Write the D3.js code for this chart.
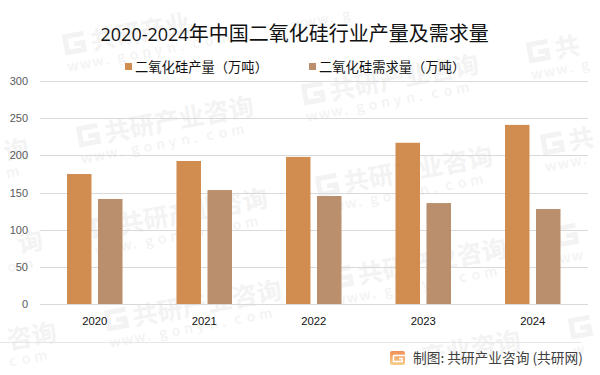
<!DOCTYPE html>
<html lang="zh-CN">
<head>
  <meta charset="UTF-8">
  <script src="https://d3js.org/d3.v7.min.js"></script>
  <title>2020-2024年中国二氧化硅行业产量及需求量</title>
  <style>
    html, body { margin: 0; padding: 0; background: #fff; }
    svg { display: block; font-family: "Noto Sans CJK SC", sans-serif; }
    .tick line, .domain { shape-rendering: crispEdges; }
  </style>
</head>
<body>
  <svg width="600" height="375"></svg>
  <script>
    const years = ["2020", "2021", "2022", "2023", "2024"];
    const output = [175, 192.5, 198, 217, 241];
    const demand = [141.5, 153.5, 145.5, 136, 128];
    const yTicks = [0, 50, 100, 150, 200, 250, 300];
    const seriesNames = ["二氧化硅产量（万吨）", "二氧化硅需求量（万吨）"];
    const colors = ["#d18c4f", "#b98f6d"];
    const wmName = "共研产业咨询";
    const wmSite = "www.gonyn.com";

    const svg = d3.select("svg");

    // 水印放在最底层，逐字放置，出画的字不画
    const wm = svg.append("g").attr("id", "watermark").attr("fill", "#f3f3f3");
    const rad = 10.5 * Math.PI / 180;
    const toPage = (ox, oy, lx, ly) => [
      ox + lx * Math.cos(rad) + ly * Math.sin(rad),
      oy - lx * Math.sin(rad) + ly * Math.cos(rad)
    ];
    const inside = (p, s) => p[0] >= 1 && p[0] + s * 1.1 <= 599 && p[1] - s * 1.4 >= 1 && p[1] + 6 <= 374;
    const putChar = (ch, p, size, weight) => {
      wm.append("text").text(ch)
        .attr("transform", `translate(${p[0]},${p[1]}) rotate(-10.5)`)
        .attr("font-size", size).attr("font-weight", weight);
    };
    for (let row = -1; row < 6; row++) {
      for (let col = -2; col < 4; col++) {
        const ox = 65 + col * 225 + row * 14;
        const oy = 55 - col * 42 + row * 92;
        const logo = toPage(ox, oy, 0, 0);
        if (inside(logo, 24)) {
          wm.append("path")
            .attr("transform", `translate(${logo[0]},${logo[1]}) rotate(-10.5)`)
            .attr("d", "M22 -18H3V-2H20V-9H11")
            .attr("fill", "none").attr("stroke", "#f3f3f3").attr("stroke-width", 5);
        }
        Array.from(wmName).forEach((ch, i) => {
          const p = toPage(ox, oy, 28 + i * 25.2, 0);
          if (inside(p, 25)) putChar(ch, p, 25, 700);
        });
        Array.from(wmSite).forEach((ch, i) => {
          const p = toPage(ox, oy, i * 12.7, 17);
          if (inside(p, 13)) putChar(ch, p, 14, 500);
        });
      }
    }

    const x = d3.scaleBand().domain(years).range([40, 587.5]);
    const y = d3.scaleLinear().domain([0, 300]).range([304.3, 81]);
    const x1 = d3.scaleBand().domain([0, 1]).range([27, 82.5]).paddingInner(0.21);

    // 网格线和y轴
    const yAxis = d3.axisLeft(y).tickValues(yTicks).tickSize(-547.5).tickPadding(12);
    const yG = svg.append("g").attr("transform", "translate(40,0)").call(yAxis);
    yG.select(".domain").remove();
    yG.selectAll("line").attr("stroke", "#d9d9d9").attr("stroke-width", 1);
    yG.selectAll("text").attr("fill", "#595959").attr("font-size", 11)
      .attr("font-family", "'Liberation Sans', sans-serif");

    [output, demand].forEach((vals, i) => {
      svg.append("g").selectAll("rect")
        .data(vals)
        .enter()
        .append("rect")
        .attr("x", (d, j) => x(years[j]) + x1(i))
        .attr("y", d => y(d))
        .attr("width", x1.bandwidth())
        .attr("height", d => y(0) - y(d))
        .attr("fill", colors[i]);
    });

    const xAxis = d3.axisBottom(x).tickSize(0).tickPadding(13);
    const xG = svg.append("g").attr("transform", "translate(0,304.3)").call(xAxis);
    xG.select(".domain").attr("stroke", "#d9d9d9");
    xG.selectAll("text").attr("fill", "#111").attr("font-size", 11.3)
      .attr("font-family", "'Liberation Sans', sans-serif");

    // 标题
    const title = svg.append("text").attr("x", 100.5).attr("y", 41).attr("fill", "#111");
    title.append("tspan").text("2020-2024").attr("font-size", 18).attr("font-family", "'Open Sans', sans-serif");
    title.append("tspan").text("年中国二氧化硅行业产量及需求量").attr("font-size", 20);

    // 图例
    [125, 309].forEach((lx, i) => {
      svg.append("rect").attr("x", lx).attr("y", 63).attr("width", 7).attr("height", 7).attr("fill", colors[i]);
      svg.append("text").text(seriesNames[i]).attr("x", lx + 10).attr("y", 72)
        .attr("font-size", 13.3).attr("fill", "#111");
    });

    // 底部来源
    svg.append("line").attr("x1", 0).attr("x2", 581).attr("y1", 342.5).attr("y2", 342.5)
      .attr("stroke", "#e6e6e6");
    const grad = svg.append("defs").append("linearGradient").attr("id", "logoGrad")
      .attr("x1", 0).attr("x2", 0).attr("y1", 0).attr("y2", 1);
    grad.append("stop").attr("offset", 0).attr("stop-color", "#f0905a");
    grad.append("stop").attr("offset", 1).attr("stop-color", "#f8cf8a");
    svg.append("rect").attr("x", 390).attr("y", 351).attr("width", 15).attr("height", 14)
      .attr("rx", 2).attr("fill", "url(#logoGrad)");
    svg.append("path").attr("d", "M393.5 355.5H405M399 358.5H402V361.5H393.5V355.5")
      .attr("fill", "none").attr("stroke", "#fff").attr("stroke-width", 1.6);
    svg.append("text").text("制图: 共研产业咨询 (共研网)").attr("x", 413).attr("y", 362.5)
      .attr("font-size", 13.7).attr("fill", "#404040");
  </script>
</body>
</html>
